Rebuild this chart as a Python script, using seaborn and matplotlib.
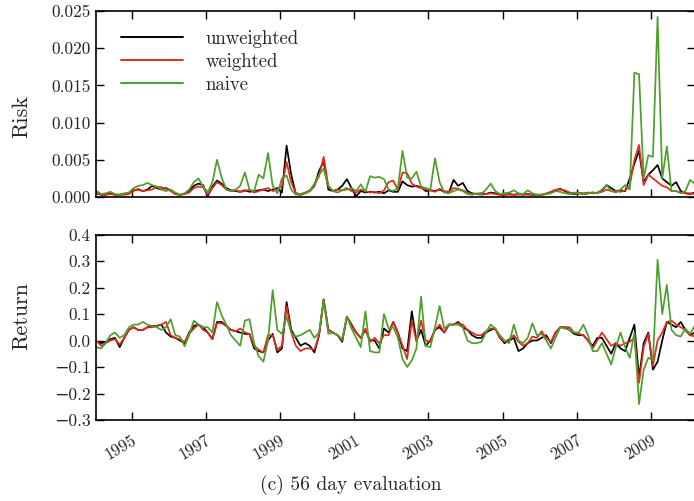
import numpy as np
import pandas as pd
import matplotlib
matplotlib.use("Agg")
import matplotlib.pyplot as plt
from matplotlib.ticker import FuncFormatter, FixedLocator
import seaborn as sns

# ---------------- data ----------------
start_year = 1994.05
step_year = 0.125
years = start_year + step_year * np.arange(130)

# Risk values (units of 1e-3)
risk_unweighted = [0.5, 0.3, 0.3, 0.5, 0.3, 0.3, 0.4, 0.5, 0.9, 1.0,
                   0.8, 1.0, 1.5, 1.2, 1.0, 1.2, 0.9, 0.4, 0.3, 0.4,
                   0.8, 1.5, 1.8, 1.6, 0.1, 1.4, 2.2, 1.8, 1.2, 0.9,
                   0.8, 0.7, 0.9, 0.7, 0.8, 0.9, 1.0, 0.8, 1.0, 1.2,
                   0.6, 6.9, 3.0, 0.4, 0.3, 0.5, 0.8, 1.5, 3.5, 4.8,
                   1.0, 0.8, 1.0, 1.5, 2.4, 1.2, 0.1, 0.8, 0.6, 0.7,
                   0.6, 0.7, 0.5, 0.9, 0.7, 0.7, 2.1, 1.6, 1.4, 1.5,
                   1.3, 0.8, 0.9, 0.8, 1.0, 0.7, 0.6, 2.3, 1.5, 1.9,
                   0.8, 0.5, 0.4, 0.5, 0.4, 0.6, 0.5, 0.3, 0.3, 0.4,
                   0.3, 0.4, 0.3, 0.4, 0.3, 0.3, 0.3, 0.4, 0.6, 0.9,
                   1.1, 0.8, 0.5, 0.4, 0.5, 0.4, 0.5, 0.6, 0.5, 0.9,
                   1.6, 1.2, 0.8, 0.9, 0.8, 2.5, 4.5, 6.2, 2.0, 3.0,
                   3.6, 4.3, 2.5, 2.0, 1.5, 2.0, 0.8, 0.5, 0.4, 0.6]
risk_weighted = [0.6, 0.3, 0.3, 0.4, 0.3, 0.3, 0.3, 0.4, 0.8, 1.1,
                 0.8, 0.9, 1.0, 1.4, 1.3, 1.1, 0.8, 0.4, 0.3, 0.4,
                 0.6, 1.2, 1.4, 1.3, 0.3, 1.2, 2.0, 1.6, 1.0, 0.8,
                 0.9, 0.7, 0.8, 1.0, 0.6, 0.8, 1.0, 1.2, 0.8, 1.0,
                 1.5, 4.7, 2.0, 0.5, 0.4, 0.6, 0.9, 1.6, 2.8, 5.4,
                 1.5, 0.8, 1.0, 0.9, 1.2, 0.8, 0.6, 1.0, 0.8, 0.6,
                 0.7, 0.5, 0.9, 2.0, 2.2, 1.0, 3.3, 3.2, 1.8, 1.4,
                 1.2, 1.0, 0.9, 0.7, 1.1, 0.8, 0.7, 1.2, 1.1, 0.9,
                 0.6, 0.4, 0.4, 0.3, 0.4, 0.5, 0.4, 0.3, 0.3, 0.3,
                 0.3, 0.3, 0.4, 0.3, 0.3, 0.3, 0.3, 0.5, 0.7, 1.0,
                 1.0, 0.9, 0.6, 0.5, 0.6, 0.5, 0.6, 0.5, 0.6, 0.7,
                 1.0, 0.8, 0.8, 0.7, 0.9, 1.5, 5.0, 7.0, 1.6, 3.0,
                 2.5, 2.0, 1.5, 1.3, 0.8, 0.8, 0.6, 0.5, 0.5, 0.4]
risk_naive = [0.8, 0.4, 0.5, 0.7, 0.4, 0.3, 0.5, 0.6, 1.2, 1.5,
              1.6, 1.9, 1.6, 1.4, 1.0, 0.8, 1.0, 0.6, 0.3, 0.5,
              1.0, 2.0, 2.5, 1.4, 0.6, 2.0, 5.0, 2.6, 1.0, 0.8,
              1.0, 1.5, 3.3, 1.0, 0.8, 3.0, 2.5, 5.9, 1.5, 0.5,
              2.5, 2.9, 1.0, 0.3, 0.4, 0.5, 0.8, 1.8, 3.0, 3.8,
              1.5, 0.8, 0.6, 0.9, 1.0, 1.2, 0.8, 1.7, 0.7, 2.8,
              2.6, 2.7, 2.4, 1.0, 0.8, 1.2, 6.2, 2.6, 2.5, 3.4,
              1.4, 1.2, 1.0, 5.2, 2.0, 0.6, 0.5, 0.8, 1.0, 0.8,
              0.4, 0.3, 0.5, 0.4, 1.0, 1.8, 0.8, 0.4, 0.5, 0.6,
              0.9, 0.5, 0.4, 0.9, 0.5, 0.3, 0.3, 0.4, 0.5, 0.8,
              0.7, 0.5, 0.4, 0.6, 0.5, 0.4, 0.5, 0.6, 0.5, 1.0,
              1.6, 0.8, 0.6, 1.0, 1.6, 1.0, 16.7, 16.5, 2.5, 5.6,
              5.4, 24.2, 2.5, 6.8, 0.8, 0.8, 0.5, 0.8, 2.3, 1.8]

# Return values (units of 1e-2)
ret_unweighted = [-0.5, -1, -0.5, 0.5, 1, -2.5, 1, 4, 5, 4,
                  4, 5, 5.5, 5.5, 6, 3, 1.5, 1, 0, -1,
                  3, 5.5, 6, 5, 3, 0.5, 7, 7, 5.5, 4,
                  3.5, 3, 2.5, 2.5, -3, -4, -4.5, 0, 2.5, -4.5,
                  -3, 14.5, 4, 1, -2, -1, -2, -4.5, 2, 15.5,
                  4, 3, 2, -0.5, 9, 6, 3, 1, 4, 0,
                  0, -3, 4.5, 3, 7, 3, -3, -4, 11, 0,
                  4, -2, 0, 4, 5, 3, 6, 6, 7, 5,
                  4, 2, 1, 1, 3, 4, 4.5, 1, -1, 0,
                  1, -4, -3, -1, 0, 0, 1, 2, -1, 3,
                  5, 5, 4, 2.5, 2, 2, 0, -2, 1, 1,
                  -2, -5, -1, -3, -4, 1, 6, -14, -1, 3,
                  -11, -8, 0, 7, 6, 5, 7, 4, 2, 3]
ret_weighted = [0, -2, -1, 0, 0.5, -1.5, 1, 4, 5, 4,
                4, 5, 5, 5.5, 6, 7, 2, 1, 0.5, -0.5,
                2.5, 4.5, 6, 4, 3, 0.5, 6.5, 6.5, 5.5, 4,
                3.5, 4.5, 3, 2.5, -2, -3.5, -4.5, 2, 2, -3.5,
                -2, 13, 3, -2, -4, -3, -3, -3.5, 2, 15.5,
                4, 3, 2, 0, 9, 5.5, 3, 1, 4.5, -0.5,
                1, -1, 2, 2, 7, 3, -2, -7, 7.5, -0.5,
                7.5, 0, -0.5, 4, 6, 3, 6, 6, 6.5, 6,
                4, 3, 2, 2, 3.5, 4.5, 4.5, 1, -0.5, 0.5,
                2, -0.5, -2, -1, 1.5, 1, 3.5, 1, -0.5, 3,
                5, 5, 5, 3, 2.5, 2, 0, -3, 0, 3,
                0.5, -2, -1, -2, -1, -0.5, 1, -16, -2.5, 2.5,
                -9.5, 0, 3, 7, 7.5, 6, 5, 4, 2, 1.5]
ret_naive = [-2.5, -3, -1, 2, 3, 1, 2, 5, 6, 6,
             7, 6, 5.5, 5, 4, 5, 8, 2, 1.5, -2.2,
             2, 7.5, 6, 5, 5, 3, 14.5, 9.5, 6, 2,
             0, -2, 7.5, 8, -1, -6, -8, 0, 19, 4,
             2.5, 9, 3, 1.5, 2, 3, 4, 1, 3, 15,
             2.5, 3, 2, 0.5, 9, 4.5, 1, -2.5, 11, -4,
             -4.5, -4.5, 10, 4.5, 5, 1, -7, -10, -7.5, -3,
             16.5, -2, -2.5, 5, 13, 4.5, 6, 6, 6, 5,
             0, -1, -1, -0.5, 3, 6, 4.5, 2, 0, -1,
             6, 0, -1, 1, 6.5, 2, 2.5, 0, -3, 1,
             5, 4.5, 4, 3, 3, 6, 2, -4, -4, -1,
             -5, -9, -2.5, 3, -2.5, -6.5, 3, -24, -11, -6.5,
             -7.5, 30.5, 10, 21, 4, 2, 1.5, 4.5, 2.5, 5.5]

series_names = ["unweighted", "weighted", "naive"]
series_colors = ["#000000", "#e5281c", "#4ba02a"]
year_ticks = [1995, 1997, 1999, 2001, 2003, 2005, 2007, 2009]
risk_ticks = [0.000, 0.005, 0.010, 0.015, 0.020, 0.025]
ret_ticks = [-0.3, -0.2, -0.1, 0.0, 0.1, 0.2, 0.3, 0.4]
caption = "(c) 56 day evaluation"

risk_df = pd.DataFrame({
    "year": np.tile(years, 3),
    "value": np.concatenate([risk_unweighted, risk_weighted, risk_naive]) * 1e-3,
    "series": np.repeat(series_names, len(years)),
})
ret_df = pd.DataFrame({
    "year": np.tile(years, 3),
    "value": np.concatenate([ret_unweighted, ret_weighted, ret_naive]) * 1e-2,
    "series": np.repeat(series_names, len(years)),
})

# ---------------- style ----------------
sns.set_style("ticks")
plt.rcParams["font.family"] = ["cmr10", "DejaVu Serif"]
plt.rcParams["mathtext.fontset"] = "cm"
plt.rcParams["axes.unicode_minus"] = True

W, H = 694, 501
fig = plt.figure(figsize=(W / 100, H / 100), dpi=100)
left = 96 / W
width = 598.5 / W
ax1 = fig.add_axes([left, (H - 197) / H, width, 186 / H])
ax2 = fig.add_axes([left, (H - 420) / H, width, 185.5 / H])

palette = dict(zip(series_names, series_colors))
sns.lineplot(data=risk_df, x="year", y="value", hue="series", palette=palette,
             hue_order=series_names, ax=ax1, linewidth=1.25, legend=True)
sns.lineplot(data=ret_df, x="year", y="value", hue="series", palette=palette,
             hue_order=series_names, ax=ax2, linewidth=1.25, legend=False)

x_left = 1994.038
x_right = x_left + 598.5 / 37.1


def minus_fmt(fmt):
    return FuncFormatter(lambda v, p: (fmt % v).replace("-", "\u2212")
                         if abs(v) > 1e-12 else fmt % 0.0)


for ax in (ax1, ax2):
    ax.set_xlim(x_left, x_right)
    ax.xaxis.set_major_locator(FixedLocator(year_ticks))
    ax.tick_params(direction="in", top=True, right=True, length=6, width=1.0,
                   labelsize=12.5, color="black", pad=4)
    ax.tick_params(which="minor", length=0)
    for s in ax.spines.values():
        s.set_linewidth(1.2)
        s.set_color("black")
    ax.set_xlabel("")
    ax.set_ylabel("")

ax1.set_ylim(0, 0.025)
ax1.yaxis.set_major_locator(FixedLocator(risk_ticks))
ax1.yaxis.set_major_formatter(minus_fmt("%.3f"))
ax1.set_xticklabels([])

ax2.set_ylim(-0.3, 0.4)
ax2.yaxis.set_major_locator(FixedLocator(ret_ticks))
ax2.yaxis.set_major_formatter(minus_fmt("%.1f"))
ax2.set_xticks(year_ticks)
ax2.set_xticklabels([str(y) for y in year_ticks], rotation=30, ha="right",
                    rotation_mode="anchor", fontsize=12)
ax2.tick_params(axis="x", pad=9)

leg = ax1.legend(loc="upper left", bbox_to_anchor=(0.042, 0.90), frameon=False,
                 fontsize=13.5, handlelength=3.3, handletextpad=1.2,
                 labelspacing=0.27, borderpad=0, borderaxespad=0)
for line in leg.get_lines():
    line.set_linewidth(1.4)

fig.text(22 / W, 1 - 117 / H, "Risk", rotation=90, ha="center", va="center", fontsize=16)
fig.text(22 / W, 1 - 316 / H, "Return", rotation=90, ha="center", va="center", fontsize=16)
fig.text(351 / W, 1 - 485 / H, caption, ha="center", va="center", fontsize=14)

fig.savefig("out.png", dpi=100)
